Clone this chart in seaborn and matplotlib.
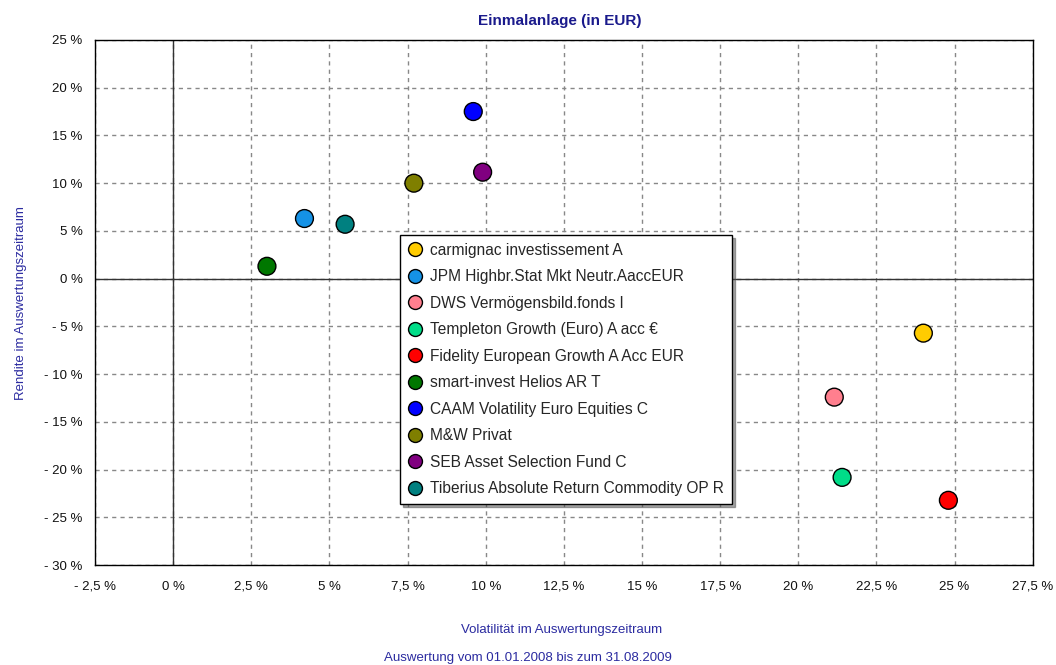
import numpy as np
import pandas as pd
import matplotlib
matplotlib.use("Agg")
import matplotlib.pyplot as plt
from matplotlib.ticker import FuncFormatter, MultipleLocator
import seaborn as sns

funds = [
    "carmignac investissement A",
    "JPM Highbr.Stat Mkt Neutr.AaccEUR",
    "DWS Vermögensbild.fonds I",
    "Templeton Growth (Euro) A acc €",
    "Fidelity European Growth A Acc EUR",
    "smart-invest Helios AR T",
    "CAAM Volatility Euro Equities C",
    "M&W Privat",
    "SEB Asset Selection Fund C",
    "Tiberius Absolute Return Commodity OP R",
]
volatility = [24.0, 4.2, 21.15, 21.4, 24.8, 3.0, 9.6, 7.7, 9.9, 5.5]
rendite = [-5.7, 6.3, -12.4, -20.8, -23.2, 1.3, 17.5, 10.0, 11.15, 5.7]
colors = ["#FFCC00", "#1592E6", "#FF7F8E", "#00DD88", "#FF0000",
          "#007700", "#0000FF", "#7F7F00", "#800080", "#008080"]

df = pd.DataFrame({"fund": funds, "vol": volatility, "ret": rendite})

sns.set_style("white")
plt.rcParams['font.family'] = ['Liberation Sans', 'DejaVu Sans']

fig = plt.figure(figsize=(10.56, 6.65), dpi=100)
ax = fig.add_axes([0.09, 0.150, 0.888, 0.790])

# grid and zero lines
ax.grid(True, linestyle=(0, (3, 3)), color="#888888", linewidth=1)
ax.axhline(0, color="#333333", linewidth=1, zorder=1.5)
ax.axvline(0, color="#333333", linewidth=1, zorder=1.5)

sns.scatterplot(data=df, x="vol", y="ret", hue="fund", palette=colors,
                hue_order=funds, s=165, edgecolor="black", linewidth=1,
                ax=ax, zorder=3)

ax.set_xlim(-2.5, 27.5)
ax.set_ylim(-30, 25)
ax.xaxis.set_major_locator(MultipleLocator(2.5))
ax.yaxis.set_major_locator(MultipleLocator(5))


def pct(v, pos):
    s = f"{abs(v):.1f}".rstrip("0").rstrip(".").replace(".", ",")
    if round(v, 3) < 0:
        return f"- {s} %"
    return f"{s} %"


ax.xaxis.set_major_formatter(FuncFormatter(pct))
ax.yaxis.set_major_formatter(FuncFormatter(pct))
ax.tick_params(axis="both", which="major", length=5, color="#888888",
               labelsize=9.5, direction="out", labelcolor="#111111")
ax.tick_params(axis="x", pad=6)
ax.tick_params(axis="y", pad=4)
for sp in ax.spines.values():
    sp.set_color("black")
    sp.set_linewidth(1)

ax.set_xlabel("")
ax.set_ylabel("Rendite im Auswertungszeitraum", color="#2B2BA0",
              fontsize=9.5)
ax.yaxis.set_label_coords(-0.073, 0.5)

fig.text(0.53, 0.969, "Einmalanlage (in EUR)", ha="center", va="center",
         fontsize=11, fontweight="bold", color="#1A1A8C")
fig.text(0.532, 0.052, "Volatilität im Auswertungszeitraum", ha="center",
         va="center", fontsize=9.5, color="#2B2BA0")
fig.text(0.50, 0.010, "Auswertung vom 01.01.2008 bis zum 31.08.2009",
         ha="center", va="center", fontsize=9.5, color="#2B2BA0")

leg = ax.legend(loc="upper left", bbox_to_anchor=(0.325, 0.629),
                frameon=True, fancybox=False, shadow=True, fontsize=11.2,
                markerscale=0.78, handletextpad=0.45, labelspacing=0.74,
                borderpad=0.5, handlelength=1.0, borderaxespad=0)
leg.get_frame().set_edgecolor("black")
leg.get_frame().set_linewidth(1)
leg.set_zorder(5)

fig.savefig("out.png", dpi=100)
